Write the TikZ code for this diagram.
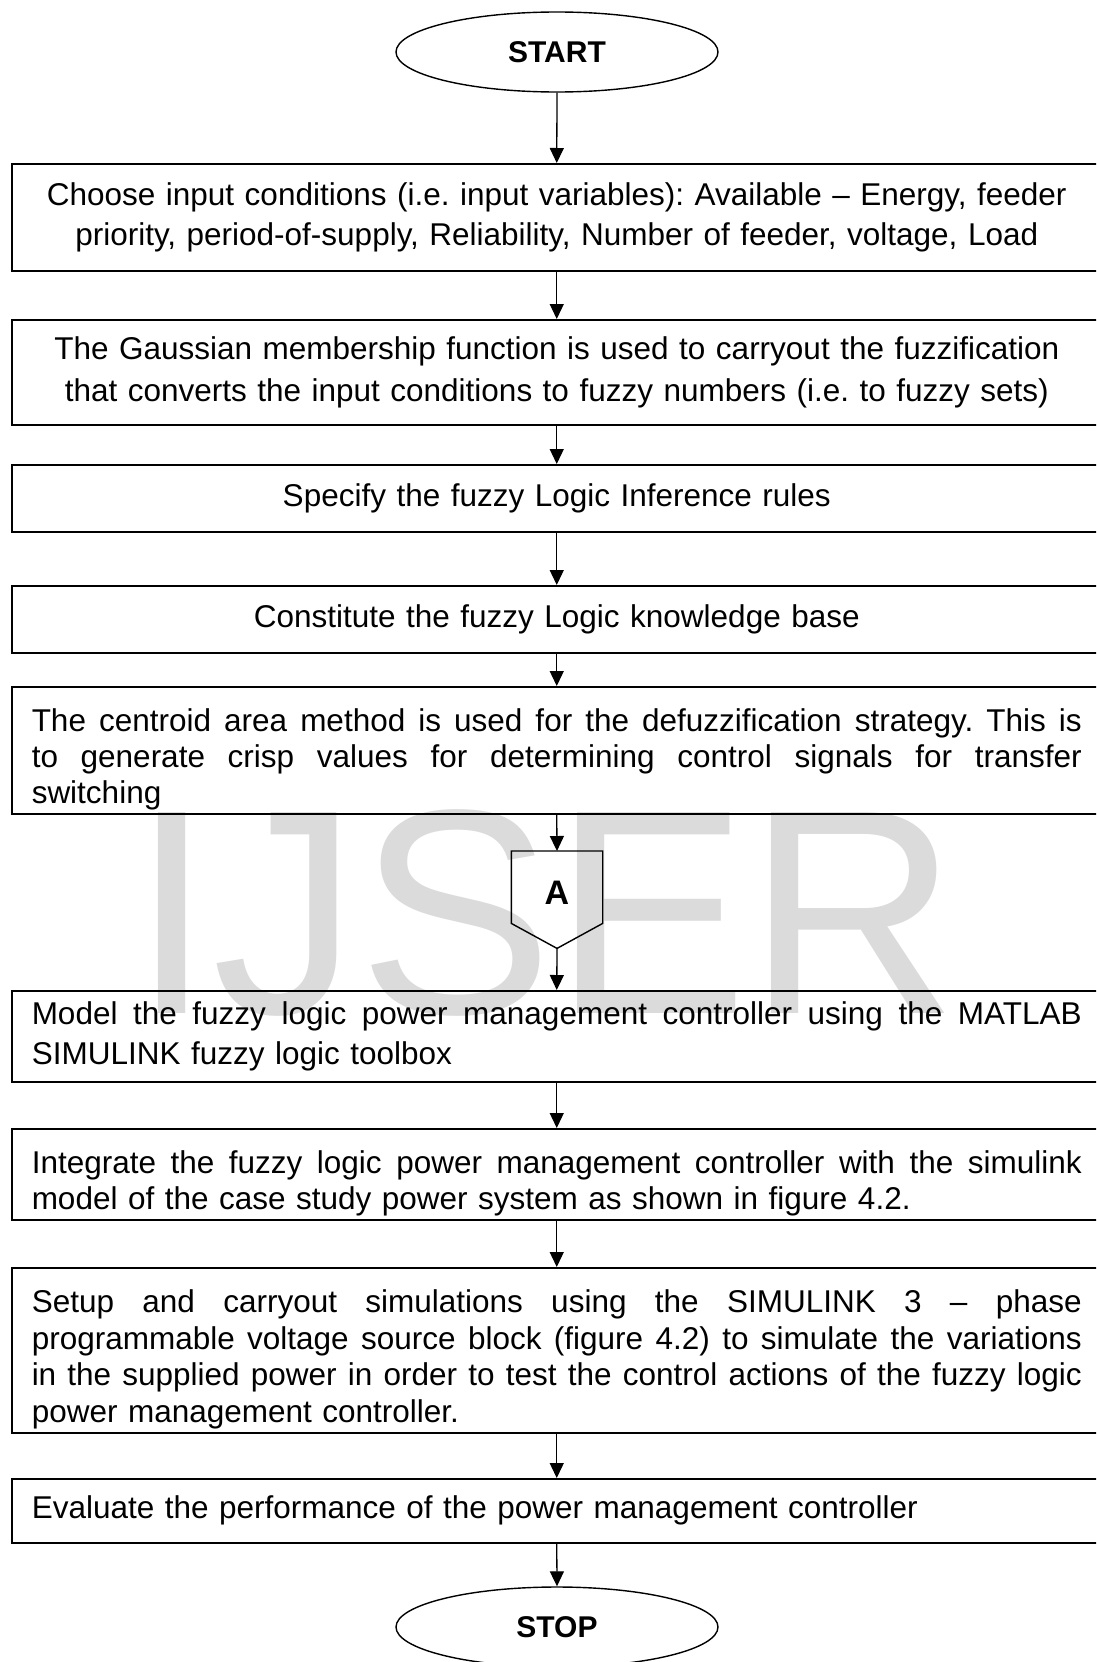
\documentclass[tikz,border=0pt]{standalone}
\usepackage{fontspec}
\setmainfont{Liberation Sans}
\usetikzlibrary{arrows.meta,shapes.geometric,calc}
\newcommand\jline[1]{\leavevmode\hbox to 1050pt{\spaceskip=0.278em plus 1fil\relax#1}}
\newcommand\pushdown{\rule{0pt}{41pt}}
\begin{document}
\frenchspacing
\begin{tikzpicture}[x=1pt,y=-1pt,
  stepbox/.style={draw, line width=1.5pt, rectangle, anchor=north west,
    minimum width=1090pt, text width=1050pt, inner xsep=20pt, inner ysep=0pt,
    font=\fontsize{31.5}{37}\selectfont\frenchspacing},
  term/.style={draw, line width=1.4pt, ellipse, minimum width=322pt,
    minimum height=80pt, inner sep=0pt, font=\fontsize{30}{30}\selectfont\bfseries},
  arr/.style={line width=1.3pt, -{Triangle[length=15pt,width=14pt]}},
  wmark/.style={anchor=base west, inner sep=0pt, text=black!14,
    font=\fontsize{292}{292}\selectfont}
]
\useasboundingbox (0,0) rectangle (1096,1662);
\clip (0,0) rectangle (1096,1662);
\fill[white] (0,0) rectangle (1096,1662);

% watermark
\node[wmark] (wm) at (131,1013) {IJSER};

% terminals
\node[term] (start) at (557,52) {START};
\node[term] (stop) at (557,1627) {STOP};

% process boxes
\node[stepbox, minimum height=107pt, align=center, font=\fontsize{31.5}{40}\selectfont\frenchspacing] (b1) at (11,163)
  {Choose input conditions (i.e. input variables): Available – Energy, feeder\\
   priority, period-of-supply, Reliability, Number of feeder, voltage, Load};
\node[stepbox, minimum height=105pt, align=center, font=\fontsize{31.5}{42}\selectfont\frenchspacing] (b2) at (11,319)
  {The Gaussian membership function is used to carryout the fuzzification\\
   that converts the input conditions to fuzzy numbers (i.e. to fuzzy sets)};
\node[stepbox, minimum height=67pt, align=center] (b3) at (11,464)
  {Specify the fuzzy Logic Inference rules};
\node[stepbox, minimum height=67pt, align=center] (b4) at (11,585)
  {Constitute the fuzzy Logic knowledge base};
\node[stepbox, minimum height=127pt, align=left, font=\fontsize{31.5}{36}\selectfont\frenchspacing] (b5) at (11,686)
  {\pushdown\jline{The centroid area method is used for the defuzzification strategy. This is}\\
   \jline{to generate crisp values for determining control signals for transfer}\\
   switching};

% off-page connector A
\node[minimum width=91pt, minimum height=72pt, inner sep=0pt, anchor=north,
  font=\fontsize{34}{34}\selectfont\bfseries] (conA) at (557,851) {\raisebox{-6pt}[\height][\depth]{A}};
\coordinate (conAtip) at ($(conA.south)+(0,25)$);
\draw[line width=1.4pt, line join=miter] (conA.south west) -- (conA.north west) -- (conA.north east)
  -- (conA.south east) -- (conAtip) -- cycle;

\node[stepbox, minimum height=91pt, align=left, font=\fontsize{31.5}{40}\selectfont\frenchspacing] (b6) at (11,990)
  {\jline{Model the fuzzy logic power management controller using the MATLAB}\\
   SIMULINK fuzzy logic toolbox};
\node[stepbox, minimum height=91pt, align=left, font=\fontsize{31.5}{36}\selectfont\frenchspacing] (b7) at (11,1128)
  {\pushdown\jline{Integrate the fuzzy logic power management controller with the simulink}\\
   model of the case study power system as shown in figure 4.2.};
\node[stepbox, minimum height=165pt, align=left, font=\fontsize{31.5}{36.5}\selectfont\frenchspacing] (b8) at (11,1267)
  {\pushdown\jline{Setup and carryout simulations using the SIMULINK 3 – phase}\\
   \jline{programmable voltage source block (figure 4.2) to simulate the variations}\\
   \jline{in the supplied power in order to test the control actions of the fuzzy logic}\\
   power management controller.};
\node[stepbox, minimum height=64pt, align=left] (b9) at (11,1478)
  {Evaluate the performance of the power management controller};

% connectors
\draw[arr] (start.south) -- (b1.north);
\draw[arr] (b1.south) -- (b2.north);
\draw[arr] (b2.south) -- (b3.north);
\draw[arr] (b3.south) -- (b4.north);
\draw[arr] (b4.south) -- (b5.north);
\draw[arr] (b5.south) -- (conA.north);
\draw[arr] (conAtip) -- (b6.north);
\draw[arr] (b6.south) -- (b7.north);
\draw[arr] (b7.south) -- (b8.north);
\draw[arr] (b8.south) -- (b9.north);
\draw[arr] (b9.south) -- (stop.north);
\end{tikzpicture}
\end{document}
